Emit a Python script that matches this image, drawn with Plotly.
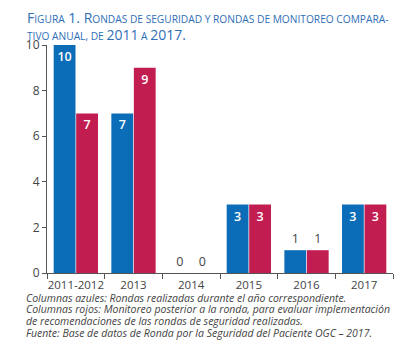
import plotly.graph_objects as go

categories = ["2011-2012", "2013", "2014", "2015", "2016", "2017"]
azules = [10, 7, 0, 3, 1, 3]
rojos = [7, 9, 0, 3, 1, 3]
y_ticks = [0, 2, 4, 6, 8, 10]

BLUE = "#0b6db7"
RED = "#c21d50"
GRAY = "#444444"

OFF = 8  # default page margin of the browser
W, H = 416 - OFF, 361 - OFF
# plot area in screenshot pixels: x 47..393, y 45..273
ML, MR, MT, MB = 47 - OFF, 416 - 393, 45 - OFF, 361 - 273
pw = W - ML - MR
ph = H - MT - MB


def px_x(p):
    return (p - OFF - ML) / pw


def px_y(p):
    return (H - MB - (p - OFF)) / ph


def pos(vals):
    return ["outside" if v <= 1 else "inside" for v in vals]


fig = go.Figure()
for name, vals, col in [("Azules", azules, BLUE), ("Rojos", rojos, RED)]:
    fig.add_trace(go.Bar(
        x=categories, y=vals, name=name,
        marker=dict(color=col, line=dict(width=0)),
        text=[str(v) for v in vals],
        textposition=pos(vals),
        insidetextanchor="end",
        insidetextfont=dict(family="Open Sans", size=12.5, color="white", weight=600),
        outsidetextfont=dict(family="Open Sans", size=12.5, color=GRAY),
        constraintext="none",
        cliponaxis=False,
    ))


BS, SS = 14, 10.2


def sc(big, small):
    return f"<span style='font-size:{BS}px'>{big}</span><span style='font-size:{SS}px'>{small}</span>"


line1 = (sc("F", "IGURA") + f"<span style='font-size:{BS}px'> 1. </span>"
         + sc("R", "ONDAS DE SEGURIDAD Y RONDAS DE MONITOREO COMPARA-"))
line2 = (f"<span style='font-size:{SS}px'>TIVO ANUAL, DE </span><span style='font-size:{BS}px'>2011</span>"
         f"<span style='font-size:{SS}px'> A </span><span style='font-size:{BS}px'>2017.</span>")

for txt, yc in [(line1, 18), (line2, 34.5)]:
    fig.add_annotation(
        text=txt,
        xref="paper", yref="paper", x=px_x(25), y=px_y(yc),
        xanchor="left", yanchor="middle", align="left", showarrow=False,
        font=dict(family="Open Sans", size=BS, color="#2f6fb8"),
    )

notes = ["Columnas azules: Rondas realizadas durante el año correspondiente.",
         "Columnas rojos: Monitoreo posterior a la ronda, para evaluar implementación",
         "de recomendaciones de las rondas de seguridad realizadas.",
         "Fuente: Base de datos de Ronda por la Seguridad del Paciente OGC – 2017."]
for i, t in enumerate(notes):
    fig.add_annotation(
        text="<i>" + t + "</i>",
        xref="paper", yref="paper", x=px_x(24), y=px_y(297.5 + i * 11.8),
        xanchor="left", yanchor="middle", align="left", showarrow=False,
        font=dict(family="Open Sans", size=10.5, color=GRAY),
    )

fig.update_layout(
    width=W, height=H,
    margin=dict(l=ML, r=MR, t=MT, b=MB, autoexpand=False),
    paper_bgcolor="white", plot_bgcolor="white",
    showlegend=False,
    barmode="group", bargap=0.22, bargroupgap=0.03,
    font=dict(family="Open Sans", color=GRAY),
    xaxis=dict(
        type="category", showline=True, linecolor="#555555", linewidth=1,
        ticks="outside", tickson="boundaries", ticklen=5, tickcolor="#555555",
        showgrid=False, tickfont=dict(size=11.5, color=GRAY), tickangle=0, automargin=False,
        ticklabelstandoff=1,
    ),
    yaxis=dict(
        range=[0, 10], tickvals=y_ticks, showline=True, linecolor="#555555", linewidth=1,
        ticks="outside", ticklen=4, tickcolor="#555555", showgrid=False, zeroline=False,
        tickfont=dict(size=12, color=GRAY), automargin=False,
    ),
)

fig.write_html("out.html")
